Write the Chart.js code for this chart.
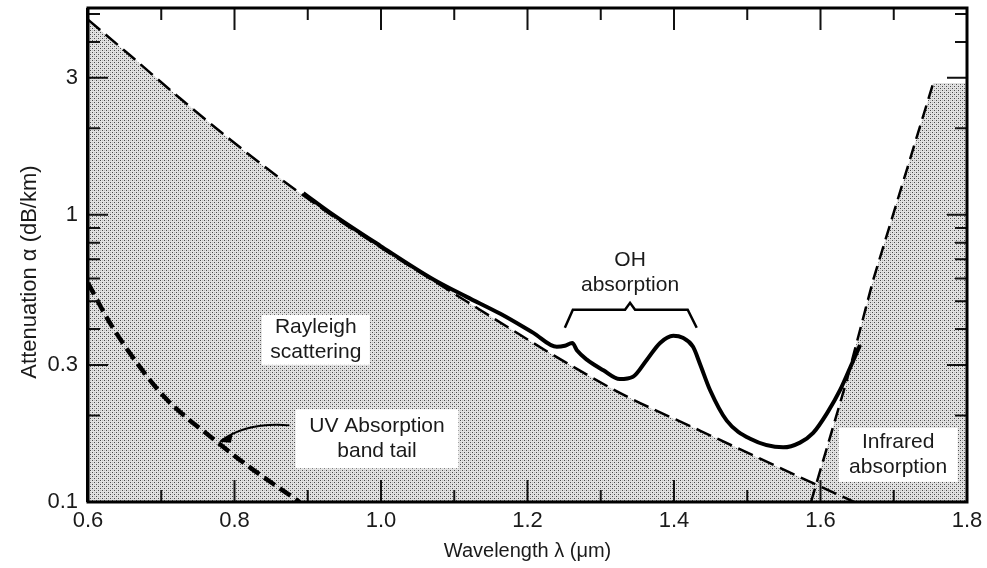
<!DOCTYPE html>
<html>
<head>
<meta charset="utf-8">
<script src="https://cdn.jsdelivr.net/npm/chart.js@4/dist/chart.umd.min.js"></script>
<style>
body{margin:0;background:#fff}
#wrap{width:987px;height:568px}
</style>
</head>
<body>
<div id="wrap"><canvas id="grafico" width="987" height="568"></canvas></div>
<script>
// valores (comprimento de onda em um, atenuacao em dB/km)
let rayleighX = [0.6, 0.657, 0.726, 0.794, 0.862, 0.930, 0.999, 1.060, 1.117, 1.176, 1.235, 1.330, 1.436, 1.586, 1.646]
let rayleighY = [4.78, 3.60, 2.54, 1.83, 1.34, 1.007, 0.771, 0.615, 0.499, 0.402, 0.325, 0.237, 0.177, 0.1175, 0.1]

let medidoX = [0.894, 0.930, 0.999, 1.071, 1.117, 1.163, 1.208, 1.240, 1.251, 1.261, 1.268, 1.281, 1.303, 1.326, 1.344, 1.363, 1.381, 1.399, 1.412, 1.426, 1.436, 1.449, 1.472, 1.504, 1.549, 1.572, 1.590, 1.609, 1.627, 1.644, 1.654]
let medidoY = [1.19, 1.02, 0.78, 0.597, 0.518, 0.452, 0.388, 0.347, 0.350, 0.358, 0.336, 0.313, 0.288, 0.268, 0.273, 0.313, 0.358, 0.379, 0.373, 0.347, 0.300, 0.246, 0.192, 0.166, 0.155, 0.161, 0.174, 0.204, 0.246, 0.308, 0.352]

let uvX = [0.6, 0.630, 0.671, 0.708, 0.776, 0.821, 0.889]
let uvY = [0.579, 0.420, 0.295, 0.227, 0.162, 0.132, 0.1]

let irX = [1.587, 1.636, 1.672, 1.754]
let irY = [0.1, 0.266, 0.594, 2.88]
let irTopoX = [1.587, 1.636, 1.672, 1.754, 1.8]
let irTopoY = [0.1, 0.266, 0.594, 2.88, 2.88]

let xTicks = [0.6, 0.8, 1.0, 1.2, 1.4, 1.6, 1.8]
let xMenores = [0.7, 0.9, 1.1, 1.3, 1.5, 1.7]
let yRotulos = [0.1, 0.3, 1, 3]
let yMenores = [0.2, 0.4, 0.5, 0.6, 0.7, 0.8, 0.9, 2, 4, 5]

let fonte = "'Liberation Sans', Arial, sans-serif"

function pontos(xs, ys){
return xs.map((x,i)=>({x:x, y:ys[i]}))
}

// textura pontilhada do sombreado
function textura(){
let c = document.createElement("canvas")
c.width = 4
c.height = 4
let g = c.getContext("2d")
g.fillStyle = "#e2e2e2"
g.fillRect(0,0,4,4)
g.fillStyle = "#4a4a4a"
g.fillRect(0,0,1,1)
g.fillRect(2,2,1,1)
g.fillStyle = "#bcbcbc"
g.fillRect(2,0,1,1)
g.fillRect(0,2,1,1)
return g.createPattern(c,"repeat")
}

let padrao = textura()

let anotacoes = {
id:"anotacoes",
afterDatasetsDraw(chart){
let ctx = chart.ctx
let xs = chart.scales.x
let ys = chart.scales.y
ctx.save()
ctx.font = "21px " + fonte
ctx.textAlign = "center"
ctx.textBaseline = "middle"

let caixas = [
{x:0.911, y:0.367, w:108, h:50, linhas:["Rayleigh","scattering"], fundo:true},
{x:0.9945, y:0.166, w:163, h:59, linhas:["UV Absorption","band tail"], fundo:true},
{x:1.706, y:0.146, w:119, h:54, linhas:["Infrared","absorption"], fundo:true},
{x:1.34, y:0.628, w:0, h:0, linhas:["OH","absorption"], fundo:false}
]
caixas.forEach(c=>{
let px = xs.getPixelForValue(c.x)
let py = ys.getPixelForValue(c.y)
if(c.fundo){
ctx.fillStyle = "#fff"
ctx.fillRect(px-c.w/2, py-c.h/2, c.w, c.h)
}
ctx.fillStyle = "#1a1a1a"
ctx.fillText(c.linhas[0], px, py-12.5)
ctx.fillText(c.linhas[1], px, py+12.5)
})

// chave do OH
let bx1 = xs.getPixelForValue(1.251)
let bx2 = xs.getPixelForValue(1.431)
let bm = xs.getPixelForValue(1.34)
let by = ys.getPixelForValue(0.467)
ctx.strokeStyle = "#000"
ctx.lineWidth = 2.5
ctx.beginPath()
ctx.moveTo(bx1, by+18)
ctx.lineTo(bx1+8, by)
ctx.lineTo(bm-5, by)
ctx.lineTo(bm, by-7)
ctx.lineTo(bm+5, by)
ctx.lineTo(bx2-9, by)
ctx.lineTo(bx2, by+18)
ctx.stroke()

// seta do UV
let ax = xs.getPixelForValue(0.776)
let ay = ys.getPixelForValue(0.162)
let sx = xs.getPixelForValue(0.875)
let sy = ys.getPixelForValue(0.185)
ctx.lineWidth = 1.8
ctx.beginPath()
ctx.moveTo(sx, sy)
ctx.quadraticCurveTo(ax+30, ay-20, ax+4, ay-1)
ctx.stroke()
ctx.beginPath()
ctx.moveTo(ax+2, ay)
ctx.lineTo(ax+16, ay-9)
ctx.lineTo(ax+14, ay+1)
ctx.closePath()
ctx.fillStyle = "#000"
ctx.fill()
ctx.restore()
},
afterDraw(chart){
let ctx = chart.ctx
let a = chart.chartArea
let xs = chart.scales.x
let ys = chart.scales.y
ctx.save()
ctx.strokeStyle = "#111"
ctx.lineWidth = 2
xTicks.concat(xMenores).forEach(v=>{
let p = xs.getPixelForValue(v)
let t = xMenores.includes(v) ? 12 : 22
ctx.beginPath()
ctx.moveTo(p, a.bottom); ctx.lineTo(p, a.bottom-t)
ctx.moveTo(p, a.top); ctx.lineTo(p, a.top+t)
ctx.stroke()
})
yRotulos.concat(yMenores).forEach(v=>{
let p = ys.getPixelForValue(v)
let t = yMenores.includes(v) ? 12 : 20
ctx.beginPath()
ctx.moveTo(a.left, p); ctx.lineTo(a.left+t, p)
ctx.moveTo(a.right, p); ctx.lineTo(a.right-t, p)
ctx.stroke()
})
ctx.lineWidth = 3
ctx.strokeStyle = "#000"
ctx.strokeRect(a.left, a.top, a.right-a.left, a.bottom-a.top)
ctx.fillStyle = "#000"
ctx.fillRect(a.left-2, a.top, 2, a.bottom-a.top)

// titulos dos eixos
ctx.fillStyle = "#1a1a1a"
ctx.textBaseline = "middle"
ctx.textAlign = "center"
ctx.font = "20px " + fonte
ctx.fillText("Wavelength λ (μm)", (a.left+a.right)/2, 551)
ctx.translate(30, 272)
ctx.rotate(-Math.PI/2)
ctx.font = "22px " + fonte
ctx.fillText("Attenuation α (dB/km)", 0, 0)
ctx.restore()
}
}

new Chart(document.getElementById("grafico"),{
type:"line",
data:{
datasets:[
{
label:"Rayleigh",
data:pontos(rayleighX, rayleighY),
borderColor:"#000",
borderWidth:2.5,
borderDash:[16,7],
backgroundColor:padrao,
fill:"start",
pointRadius:0,
cubicInterpolationMode:"monotone"
},
{
label:"Infravermelho sombra",
data:pontos(irTopoX, irTopoY),
borderWidth:0,
borderColor:"rgba(0,0,0,0)",
backgroundColor:padrao,
fill:"start",
pointRadius:0,
tension:0
},
{
label:"Infravermelho",
data:pontos(irX, irY),
borderColor:"#000",
borderWidth:2.5,
borderDash:[14,7],
fill:false,
pointRadius:0,
tension:0
},
{
label:"UV",
data:pontos(uvX, uvY),
borderColor:"#000",
borderWidth:4.5,
borderDash:[13,6],
fill:false,
pointRadius:0,
cubicInterpolationMode:"monotone"
},
{
label:"Medido",
data:pontos(medidoX, medidoY),
borderColor:"#000",
borderWidth:4,
fill:false,
pointRadius:0,
cubicInterpolationMode:"monotone"
}
]
},
plugins:[anotacoes],
options:{
responsive:false,
animation:false,
devicePixelRatio:1,
layout:{padding:{left:0, top:8, right:20, bottom:0}},
plugins:{
legend:{display:false},
tooltip:{enabled:false},
filler:{drawTime:"beforeDatasetsDraw"}
},
scales:{
x:{
type:"linear",
min:0.6,
max:1.8,
grid:{display:false, drawTicks:false},
border:{display:false},
afterBuildTicks: s => { s.ticks = xTicks.map(v=>({value:v})) },
afterFit: s => { s.height = 66; s.paddingLeft = 0; s.paddingRight = 0 },
ticks:{
padding:6,
color:"#1a1a1a",
font:{family:fonte, size:22},
callback: v => v.toFixed(1)
}
},
y:{
type:"logarithmic",
min:0.1,
max:5.25,
grid:{display:false, drawTicks:false},
border:{display:false},
afterBuildTicks: s => { s.ticks = yRotulos.map(v=>({value:v})) },
afterFit: s => { s.width = 88; s.paddingTop = 0; s.paddingBottom = 0 },
ticks:{
padding:10,
color:"#1a1a1a",
font:{family:fonte, size:22},
callback: v => String(v)
}
}
}
}
})
</script>
</body>
</html>
